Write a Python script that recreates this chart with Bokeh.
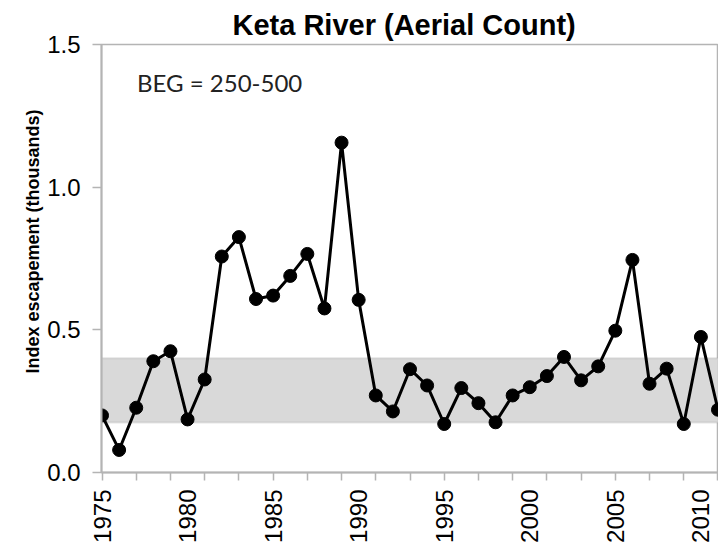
import math
from bokeh.plotting import figure
from bokeh.models import Range1d, FixedTicker, BoxAnnotation, Label, Title
from bokeh.embed import file_html
from bokeh.resources import INLINE

# ---- data ----
years = list(range(1975, 2012))
escapement = [0.200, 0.079, 0.227, 0.390, 0.425, 0.186, 0.326, 0.757, 0.825, 0.608,
              0.620, 0.689, 0.766, 0.575, 1.156, 0.605, 0.270, 0.214, 0.362, 0.305,
              0.170, 0.296, 0.243, 0.176, 0.270, 0.299, 0.338, 0.405, 0.323, 0.372,
              0.497, 0.745, 0.311, 0.364, 0.170, 0.475, 0.220]
band_low = 0.175
band_high = 0.400
x_label_years = [1975, 1980, 1985, 1990, 1995, 2000, 2005, 2010]
x_minor_years = list(range(1975, 2012, 2))
y_ticks = [0.0, 0.5, 1.0, 1.5]
title_text = "Keta River (Aerial Count)"
y_title = "Index escapement (thousands)"
beg_text = "BEG = 250-500"

FONT = "Liberation Sans"

p = figure(frame_width=617, frame_height=428,
           x_range=Range1d(1974.97, 2011.03), y_range=Range1d(0, 1.5),
           output_backend="svg", toolbar_location=None,
           min_border_left=101, min_border_right=0, min_border_top=44, min_border_bottom=10)
p.background_fill_color = "white"
p.border_fill_color = "white"
p.outline_line_color = "#b4b4b4"
p.outline_line_width = 1.5
p.xgrid.visible = False
p.ygrid.visible = False

t = Title(text=title_text, text_font=FONT, text_font_size="29px",
          text_font_style="bold", text_color="black", align="left", offset=131,
          standoff=8)
p.add_layout(t, "above")

# y axis title placed as a side title so it can sit slightly above centre
yt = Title(text=y_title, text_font=FONT, text_font_size="18px",
           text_font_style="bold", text_color="black", align="left", offset=99,
           standoff=3)
p.add_layout(yt, "left")

# band
band = BoxAnnotation(bottom=band_low, top=band_high, fill_color="#d9d9d9",
                     fill_alpha=1.0, line_color="#aaaaaa", line_width=2,
                     level="underlay")
p.add_layout(band)

p.line(years, escapement, line_color="black", line_width=3)
p.scatter(years, escapement, size=13, fill_color="black", line_color="black")

# x axis
xa = p.xaxis[0]
xa.ticker = FixedTicker(ticks=x_label_years, minor_ticks=x_minor_years)
xa.major_tick_line_color = None
xa.major_tick_out = 8
xa.major_tick_in = 0
xa.minor_tick_out = 8
xa.minor_tick_in = 0
xa.minor_tick_line_color = "#b4b4b4"
xa.minor_tick_line_width = 1.5
xa.axis_line_color = "#b4b4b4"
xa.axis_line_width = 2
xa.major_label_orientation = math.pi / 2
xa.major_label_text_font = FONT
xa.major_label_text_font_size = "24px"
xa.major_label_text_color = "black"
xa.major_label_standoff = 9

# y axis
ya = p.yaxis[0]
ya.ticker = FixedTicker(ticks=y_ticks)
ya.major_label_overrides = {v: f"{v:.1f}" for v in y_ticks}
ya.major_tick_out = 9
ya.major_tick_in = 0
ya.major_tick_line_color = "#b4b4b4"
ya.major_tick_line_width = 1.5
ya.minor_tick_line_color = None
ya.axis_line_color = "#b4b4b4"
ya.axis_line_width = 2
ya.major_label_text_font = FONT
ya.major_label_text_font_size = "24px"
ya.major_label_text_color = "black"
ya.major_label_standoff = 12

beg = Label(x=1977.05, y=1.368, text=beg_text, text_font="Lato",
            text_font_size="24px", text_color="#222222", text_baseline="middle",
            text_align="left")
p.add_layout(beg)

open("out.html", "w").write(file_html(p, INLINE))
